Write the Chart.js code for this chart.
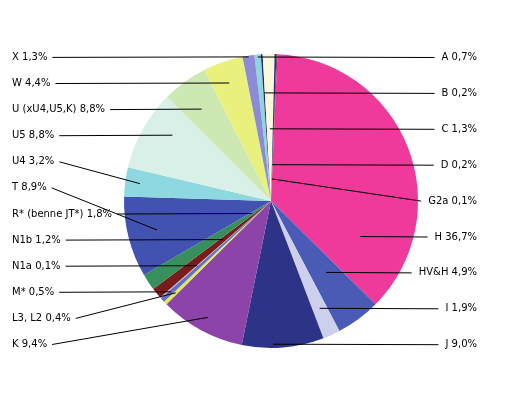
<!DOCTYPE html>
<html>
<head>
<meta charset="utf-8">
<script src="https://cdn.jsdelivr.net/npm/chart.js@4"></script>
<style>
  body { margin: 0; background: #fff; }
  canvas { display: block; }
</style>
</head>
<body>
<canvas id="pie" width="511" height="395"></canvas>
<script>
// haplogroups, clockwise from the top
const groups = ['A', 'B', 'C', 'D', 'G2a', 'H', 'HV&H', 'I', 'J', 'K', 'L3, L2', 'M*', 'N1a', 'N1b',
    'R* (benne JT*)', 'T', 'U4', 'U5', 'U (xU4,U5,K)', 'W', 'X'];
// slice sizes as drawn
const shares = [0.7, 0.2, 1.3, 0.2, 0.1, 36.7, 4.9, 1.9, 9.0, 9.4, 0.4, 0.5, 0.1, 1.2,
    1.8, 8.9, 3.2, 8.8, 5.0, 4.4, 1.3];
// percentages printed in the labels
const printed = [0.7, 0.2, 1.3, 0.2, 0.1, 36.7, 4.9, 1.9, 9.0, 9.4, 0.4, 0.5, 0.1, 1.2,
    1.8, 8.9, 3.2, 8.8, 8.8, 4.4, 1.3];
const colors = ['#8ed6de', '#2c2c74', '#f8f8da', '#30307e', '#7a2060', '#ef3a9b', '#4a5bb5',
    '#cdd0ec', '#2d3386', '#8d44a9', '#dcec52', '#6c6cc8', '#9fd4dc', '#7a1c1c',
    '#37905c', '#4152b1', '#8ed8e0', '#d8f0e8', '#cde8b2', '#eaf07c', '#8c8cd6'];

const rightCount = 9;

const leaderLabels = {
    id: 'leaderLabels',
    afterDraw(chart) {
        const ctx = chart.ctx;
        const arcs = chart.getDatasetMeta(0).data;
        ctx.save();
        ctx.font = '10px "DejaVu Sans"';
        ctx.fillStyle = '#000';
        ctx.strokeStyle = '#000';
        ctx.lineWidth = 1;
        ctx.textBaseline = 'middle';

        arcs.forEach((arc, i) => {
            const text = groups[i] + ' ' + printed[i].toFixed(1).replace('.', ',') + '%';
            const w = ctx.measureText(text).width;
            const right = i < rightCount;
            const y = right ? 57 + i * 35.9 : 344 - (i - rightCount) * 26.1;
            const cx = arc.x, cy = arc.y, R = arc.outerRadius;
            const s = arc.startAngle, e = arc.endAngle;

            const inside = (px, py) => {
                const dx = px - cx, dy = py - cy;
                if (Math.hypot(dx, dy) > R) return false;
                let a = Math.atan2(dy, dx);
                while (a < s) a += Math.PI * 2;
                while (a > s + Math.PI * 2) a -= Math.PI * 2;
                return a <= e;
            };

            // where the label's row crosses the slice
            let lo = null, hi = null;
            for (let x = cx - R; x <= cx + R; x += 0.25) {
                if (inside(x, y)) {
                    if (lo === null) lo = x;
                    hi = x;
                }
            }
            let ex, ey;
            if (lo !== null && hi - lo >= 6) {
                ex = (lo + hi) / 2;
                ey = y;
            } else {
                // along the middle of the slice, as close to the label row as possible
                const m = (s + e) / 2;
                const sy = Math.sin(m);
                let r = Math.abs(sy) > 0.01 ? (y - cy) / sy : 0;
                if (r < 0.15 * R && e - s > 0.1) r = 0.8 * R;
                r = Math.min(Math.max(r, 0.15 * R), 0.9 * R);
                ex = cx + Math.cos(m) * r;
                ey = cy + sy * r;
            }

            ctx.beginPath();
            if (right) {
                ctx.textAlign = 'right';
                ctx.fillText(text, 477, y + 0.5);
                ctx.moveTo(ex, ey);
                ctx.lineTo(477 - w - 7, y + 0.5);
            } else {
                ctx.textAlign = 'left';
                ctx.fillText(text, 12, y + 0.5);
                ctx.moveTo(12 + w + 5, y + 0.5);
                ctx.lineTo(ex, ey);
            }
            ctx.stroke();
        });
        ctx.restore();
    }
};

new Chart(document.getElementById('pie'), {
    type: 'pie',
    data: {
        labels: groups,
        datasets: [{
            data: shares,
            backgroundColor: colors,
            borderWidth: 0
        }]
    },
    options: {
        responsive: false,
        animation: false,
        rotation: -6.5,
        layout: { padding: { left: 120, right: 89, top: 54, bottom: 47 } },
        plugins: {
            legend: { display: false },
            tooltip: { enabled: false }
        }
    },
    plugins: [leaderLabels]
});
</script>
</body>
</html>
